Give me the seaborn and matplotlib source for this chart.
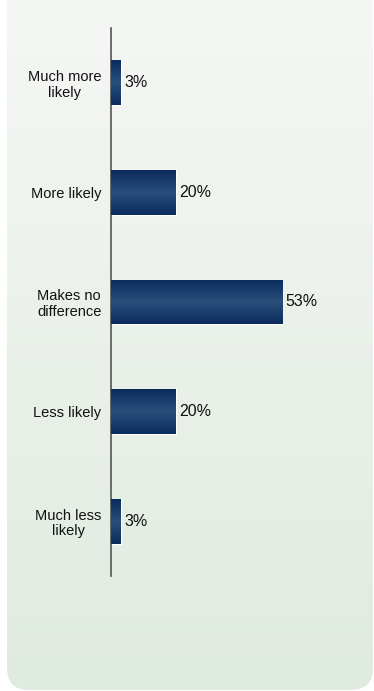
import numpy as np
import pandas as pd
import matplotlib
matplotlib.use("Agg")
import matplotlib.pyplot as plt
import seaborn as sns
from matplotlib.patches import FancyBboxPatch

categories = ["Much more\nlikely", "More likely", "Makes no\ndifference", "Less likely", "Much less\nlikely"]
values = [3, 20, 53, 20, 3]
value_labels = ["3%", "20%", "53%", "20%", "3%"]

sns.set_theme(style="white")
plt.rcParams["font.family"] = ["Liberation Sans", "DejaVu Sans"]

W, H = 374, 691
fig = plt.figure(figsize=(W / 100, H / 100), dpi=100)
fig.patch.set_facecolor("white")

# background panel with vertical gradient
bg = fig.add_axes([0, 0, 1, 1], zorder=0)
bg.set_xlim(0, W)
bg.set_ylim(H, 0)
bg.axis("off")
panel = FancyBboxPatch((7, -40), 366, 40 + 690, boxstyle="round,pad=0,rounding_size=22",
                       facecolor="none", edgecolor="none")
bg.add_patch(panel)
grad = np.linspace(0, 1, 256).reshape(-1, 1)
top = np.array([0.960, 0.968, 0.957])
bot = np.array([0.878, 0.922, 0.875])
img = top[None, None, :] * (1 - grad[:, :, None]) + bot[None, None, :] * grad[:, :, None]
im = bg.imshow(img, extent=[0, W, H, 0], aspect="auto", zorder=0)
im.set_clip_path(panel)

# chart axes
left, right = 111, 360
ytop, ybot = 28, 576
ax = fig.add_axes([left / W, 1 - ybot / H, (right - left) / W, (ybot - ytop) / H], zorder=1)
ax.patch.set_alpha(0)

df = pd.DataFrame({"cat": categories, "val": values})
sns.barplot(data=df, x="val", y="cat", orient="h", color="#173f6e", width=0.41,
            ax=ax, saturation=1)

ax.set_xlim(0, 77)
ax.set_ylim(4.5, -0.5)
ax.set_xlabel("")
ax.set_ylabel("")
ax.set_xticks([])
for s in ["top", "right", "bottom"]:
    ax.spines[s].set_visible(False)
ax.spines["left"].set_color("#555555")
ax.spines["left"].set_linewidth(1.2)
ax.tick_params(axis="y", length=0, pad=7, labelsize=10.5, labelcolor="#111111")
for t in ax.get_yticklabels():
    t.set_multialignment("center")
    t.set_linespacing(1.15)

# bar gradient overlay
gv = np.linspace(0, 1, 64)
shade = 1 - np.abs(gv - 0.5) * 2
c_edge = np.array([0.04, 0.17, 0.36])
c_mid = np.array([0.16, 0.31, 0.49])
bimg = c_edge[None, None, :] * (1 - shade[:, None, None]) + c_mid[None, None, :] * shade[:, None, None]
for p in ax.patches:
    x0, y0 = p.get_x(), p.get_y()
    w, h = p.get_width(), p.get_height()
    bi = ax.imshow(bimg, extent=[x0, x0 + w, y0 + h, y0], aspect="auto", zorder=3,
                   interpolation="bilinear")
    bi.set_clip_path(p)

ax.set_xlim(0, 77)
ax.set_ylim(4.5, -0.5)

for i, (v, lab) in enumerate(zip(values, value_labels)):
    ax.annotate(lab, (v, i), xytext=(2.5, 0), textcoords="offset points",
                va="center", ha="left", fontsize=11.5, color="#111111", zorder=4)

fig.savefig("out.png", dpi=100)
